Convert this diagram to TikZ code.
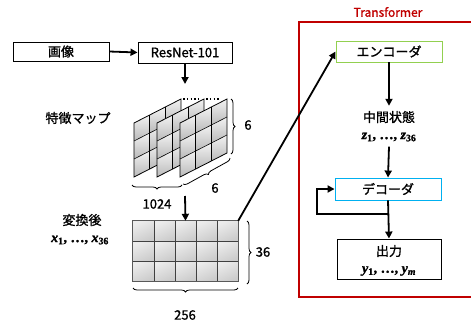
\documentclass[tikz,border=0pt]{standalone}
\usepackage{fontspec}
\setmainfont{Noto Sans CJK JP}[FakeBold=1.2]
\newfontfamily\vbf{Liberation Serif}[UprightFont={* Bold}, ItalicFont={* Bold Italic}, FakeBold=1.5]
\newcommand\mvr[2]{{\vbf\itshape #1}\textsubscript{\vbf #2}}
\usetikzlibrary{arrows.meta,decorations.pathreplacing,calc}
\definecolor{tred}{HTML}{C00000}
\definecolor{egreen}{HTML}{92D050}
\definecolor{dblue}{HTML}{00B0F0}
\begin{document}
\begin{tikzpicture}[x=1pt,y=-1pt,
  every node/.style={font=\fontsize{13}{15}\selectfont, inner sep=0pt},
  box/.style={draw, line width=0.9pt, anchor=center},
  arr/.style={line width=1.8pt, -{Triangle[length=7pt,width=7pt]}},
  brc/.style={decorate, decoration={brace, amplitude=4pt}, line width=0.8pt},
  grid/.style={line width=0.6pt},
  cellgrid/.style={line width=0.6pt, draw=black!75},
  mth/.style={font=\vbf\fontsize{14}{16}\selectfont}]
\useasboundingbox (0,0) rectangle (471,324);

% Transformer frame
\draw[tred, line width=1.2pt] (299,22) rectangle (480,297);
\node[tred, font=\fontsize{12}{14}\selectfont] (ttl) at (388,12) {Transformer};

% left top
\node[box, minimum width=96pt, minimum height=19pt] (img) at (61,51.5) {画像};
\node[box, minimum width=94pt, minimum height=21pt] (res) at (185,52.5) {ResNet-101};
\draw[arr] (img.east) -- (res.west);
\coordinate (fmtop) at (185,84);
\draw[arr] (res.south) -- (fmtop);

\node (fmlbl) at (78,118) {特徴マップ};

% feature map panels
\foreach \px in {134,157,180} {
  \foreach \i in {0,1,2} \foreach \j in {0,1,2} {
    \shade[top color=gray!10, bottom color=gray!55]
      (\px+\i*47/3, 123+\j*18-\i*8) -- (\px+\i*47/3+47/3, 123+\j*18-\i*8-8)
      -- (\px+\i*47/3+47/3, 141+\j*18-\i*8-8) -- (\px+\i*47/3, 141+\j*18-\i*8) -- cycle;
  }
  \foreach \i in {1,2} \draw[grid] (\px+\i*47/3, 177-\i*8) -- (\px+\i*47/3, 123-\i*8);
  \foreach \j in {1,2} \draw[grid] (\px,123+\j*18) -- (\px+47,99+\j*18);
  \draw[line width=0.8pt] (\px,177) -- (\px,123) -- (\px+47,99) -- (\px+47,153) -- cycle;
}
\draw[line width=1.1pt, dash pattern=on 1.6pt off 2.2pt] (183,99) -- (199,99);
\draw[line width=1.1pt, dash pattern=on 1.6pt off 2.2pt] (206,99) -- (221,99);

% braces of feature map
\draw[brc] (231,99) -- (231,154);
\node (six1) at (248,125) {6};
\draw[brc] (182,185) -- (132,185);
\draw[brc] (230,158) -- (183,184);
\node (six2) at (215,188) {6};
\node (n1024) at (157,204) {1024};

\coordinate (fmbot) at (185,196);

% matrix
\node[minimum width=105pt, minimum height=60pt] (mat) at (185.5,251) {};
\foreach \c in {0,...,4} \foreach \r in {0,...,2} {
  \shade[top color=gray!15, bottom color=gray!40, shading angle=25] (133+\c*21,221+\r*20) rectangle (154+\c*21,241+\r*20);
}
\foreach \c in {1,...,4} \draw[cellgrid] (133+\c*21,221) -- (133+\c*21,281);
\foreach \r in {1,2} \draw[cellgrid] (133,221+\r*20) -- (238,221+\r*20);
\draw[draw=gray!70!black, line width=0.8pt] (mat.south west) rectangle (mat.north east);
\draw[arr] (fmbot) -- (mat.north);

\draw[brc] (247,221) -- (247,284);
\node (n36) at (263,252) {36};
\draw[brc] (238,288) -- (133,288);
\node (n256) at (185,315) {256};

\node (conv) at (82,220) {変換後};
\node[mth] (xl) at (80,240) {\mvr{x}{1}, …, \mvr{x}{36}};

% Transformer inside
\node[box, draw=egreen, minimum width=106pt, minimum height=21pt] (enc) at (389,51.5) {エンコーダ};
\draw[arr] (mat.north east) -- (enc.west);
\node (mid) at (389,117) {中間状態};
\node[mth] (zl) at (389,137) {\mvr{z}{1}, …, \mvr{z}{36}};
\draw[arr] (enc.south) -- ($(mid.north)+(0,-5)$);
\node[box, draw=dblue, minimum width=106pt, minimum height=22pt] (dec) at (388,189) {デコーダ};
\draw[arr] ($(zl.south)+(0,5)$) -- (dec.north);
\node[box, minimum width=104pt, minimum height=40pt] (out) at (389,259) {};
\node (outt) at (389,251) {出力};
\node[mth] (yl) at (389,271) {\mvr{y}{1}, …, \mvr{y}{\itshape m}};
\coordinate (jn) at (389,214);
\coordinate (lp) at (317,214);
\draw[arr] (dec.south) -- (out.north);
\draw[arr] (jn) -- (lp) |- (dec.west);
\end{tikzpicture}
\end{document}
